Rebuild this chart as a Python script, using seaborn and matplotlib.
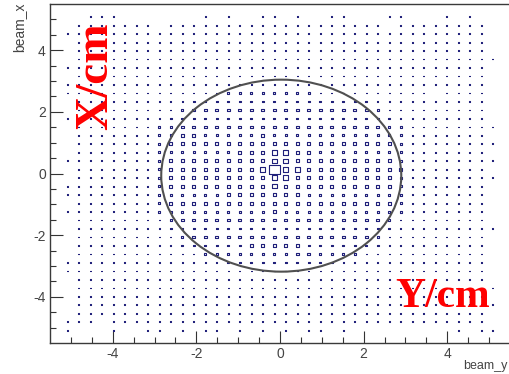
import numpy as np
import pandas as pd
import matplotlib
matplotlib.use("Agg")
import matplotlib.pyplot as plt
from matplotlib.patches import Ellipse
import seaborn as sns

# Histogram binning: 40 x 40 bins on [-5.5, 5.5] cm for both beam coordinates
bin_edges = np.linspace(-5.5, 5.5, 41)

# Cell contents, one string per beam_x bin (top bin first),
# one character per beam_y bin (left to right, in blocks of ten); "." is empty
cell_rows = [
    ".........." ".........." ".........." "..........",
    "...111...." "...1.1..11" ".1..11...1" "1...1.1...",
    "..1111111." "1111111111" "111111111." "11111111..",
    ".111111111" "1111111111" "1111111111" "11111111..",
    "..11111111" "1111111111" "1111111111" "11111111..",
    "..11111111" "1111111111" "1111111111" "11111111..",
    "..11111111" "1111111111" "1111111111" "111111111.",
    ".111111111" "1111111111" "1111111111" "11111111..",
    "..11111111" "1111111111" "1111111111" "11111111..",
    ".111111111" "1111111111" "1111111111" "11111111..",
    ".111111111" "1111122222" "2221111111" "111.1111..",
    "..11111111" "1122222222" "2222222211" "11111111..",
    "..11111111" "1233333333" "3333333321" "11111111..",
    ".111111111" "2222222222" "2222222222" "11111111..",
    "..11111112" "2333333333" "3333333332" "211111111.",
    "..11111112" "2332222232" "2222222222" "21111111..",
    "..11111112" "3333333333" "3333333333" "211111111.",
    "..11111112" "2222223334" "4332222222" "21111111..",
    ".111111112" "3333333334" "4333333333" "211111111.",
    "..11111112" "3333333349" "4433333333" "31111111..",
    "..11111112" "3333333334" "4333333333" "211111111.",
    ".111111112" "3333333334" "3333333333" "21111111..",
    ".111111112" "2222233333" "3322222222" "21111111..",
    "..11111112" "3333333333" "3333333333" "21111111..",
    ".111111112" "2222222223" "2222222222" "21111111..",
    "..11111111" "2333333333" "3333333332" "11111111..",
    "..11111111" "2222222222" "2222222222" "111111111.",
    "..11111111" "1233333333" "3333333321" "11111111..",
    "..11111111" "1222222333" "3322222221" "11111111..",
    "..11111111" "1112222222" "2332222111" "11111111..",
    ".111111111" "1111122222" "2222211111" "11111111..",
    ".111111111" "1111111111" "1111111111" "11111111..",
    "..11111111" "1111111111" "1111111111" "11111111..",
    "..11111111" "1111111111" "1111111111" "111111111.",
    "..11111111" "1111111111" "1111111111" "11111111..",
    "..11111111" "1111111111" "1111111111" "111111111.",
    "..11111111" "1111111111" "1111111111" "11111111..",
    ".111.11111" "1111111111" "1111111111" "11111111..",
    ".1...1..11" ".1.11.1.1." "1.11.1...." ".....1.11.",
    ".........." ".........." ".........." "..........",
]

# Bin content represented by each character
level_counts = {"1": 8, "2": 19, "3": 29, "4": 48, "9": 100}

# Beam aperture outline (cm)
aperture_center = (0.03, -0.07)
aperture_width = 5.74
aperture_height = 6.23

x_ticks = [-4, -2, 0, 2, 4]
y_ticks = [-4, -2, 0, 2, 4]

centers = 0.5 * (bin_edges[:-1] + bin_edges[1:])
n_bins = len(centers)
records = []
for r, row in enumerate(cell_rows):
    j = n_bins - 1 - r
    for i, ch in enumerate(row):
        if ch != ".":
            records.append((centers[i], centers[j], level_counts[ch]))
df = pd.DataFrame(records, columns=["beam_y", "beam_x", "content"])

W, H, DPI = 510, 374, 100
sns.set_theme(style="white")
plt.rcParams["font.family"] = ["Liberation Sans", "DejaVu Sans"]
plt.rcParams["axes.unicode_minus"] = False

fig = plt.figure(figsize=(W / DPI, H / DPI), dpi=DPI)
ax = fig.add_axes([50 / W, 31 / H, 460 / W, 339 / H])

# ROOT-style "box" drawing: box side proportional to the bin content
full_side_pt = 8.0
box = [(-1, -0.85), (1, -0.85), (1, 0.85), (-1, 0.85), (-1, -0.85)]
cmax = df["content"].max()
sizes = {c: (c / cmax * full_side_pt) ** 2 for c in sorted(df["content"].unique())}
sns.scatterplot(
    data=df, x="beam_y", y="beam_x", size="content", sizes=sizes,
    marker=box, facecolor="none", edgecolor="#20207a", linewidth=0.8,
    legend=False, ax=ax, zorder=2,
)

ax.add_patch(Ellipse(aperture_center, aperture_width, aperture_height,
                     facecolor="none", edgecolor="#505050", linewidth=1.5, zorder=3))

ax.set_xlim(bin_edges[0], bin_edges[-1])
ax.set_ylim(bin_edges[0], bin_edges[-1])
ax.set_xticks(x_ticks)
ax.set_yticks(y_ticks)
ax.set_xticks(np.arange(-5, 5.01, 0.5), minor=True)
ax.set_yticks(np.arange(-5, 5.01, 0.5), minor=True)
ax.tick_params(which="both", direction="in", bottom=True, left=True, top=False,
               right=False, colors="#333333", labelcolor="#444444", labelsize=10,
               width=0.8, pad=3)
ax.tick_params(which="major", length=9)
ax.tick_params(which="minor", length=4.5)
ax.set_xlabel("")
ax.set_ylabel("")
for side in ["left", "bottom", "top"]:
    ax.spines[side].set_color("#3a3a3a")
    ax.spines[side].set_linewidth(1.0)
ax.spines["right"].set_visible(False)

fig.text(19 / W, 1 - 3 / H, "beam_x", rotation=90, ha="center", va="top",
         fontsize=10, color="#444444")
fig.text(508 / W, 1 - 369 / H, "beam_y", ha="right", va="baseline",
         fontsize=9, color="#444444")

fig.text(96 / W, 1 - 76 / H, "X/cm", rotation=90, ha="center", va="center",
         fontsize=34, fontweight="bold", color="#ff0000",
         family=["Liberation Serif", "DejaVu Serif"], zorder=5)
fig.text(443 / W, 1 - 307 / H, "Y/cm", ha="center", va="baseline",
         fontsize=30, fontweight="bold", color="#ff0000",
         family=["Liberation Serif", "DejaVu Serif"], zorder=5)

fig.savefig("out.png", dpi=DPI)
